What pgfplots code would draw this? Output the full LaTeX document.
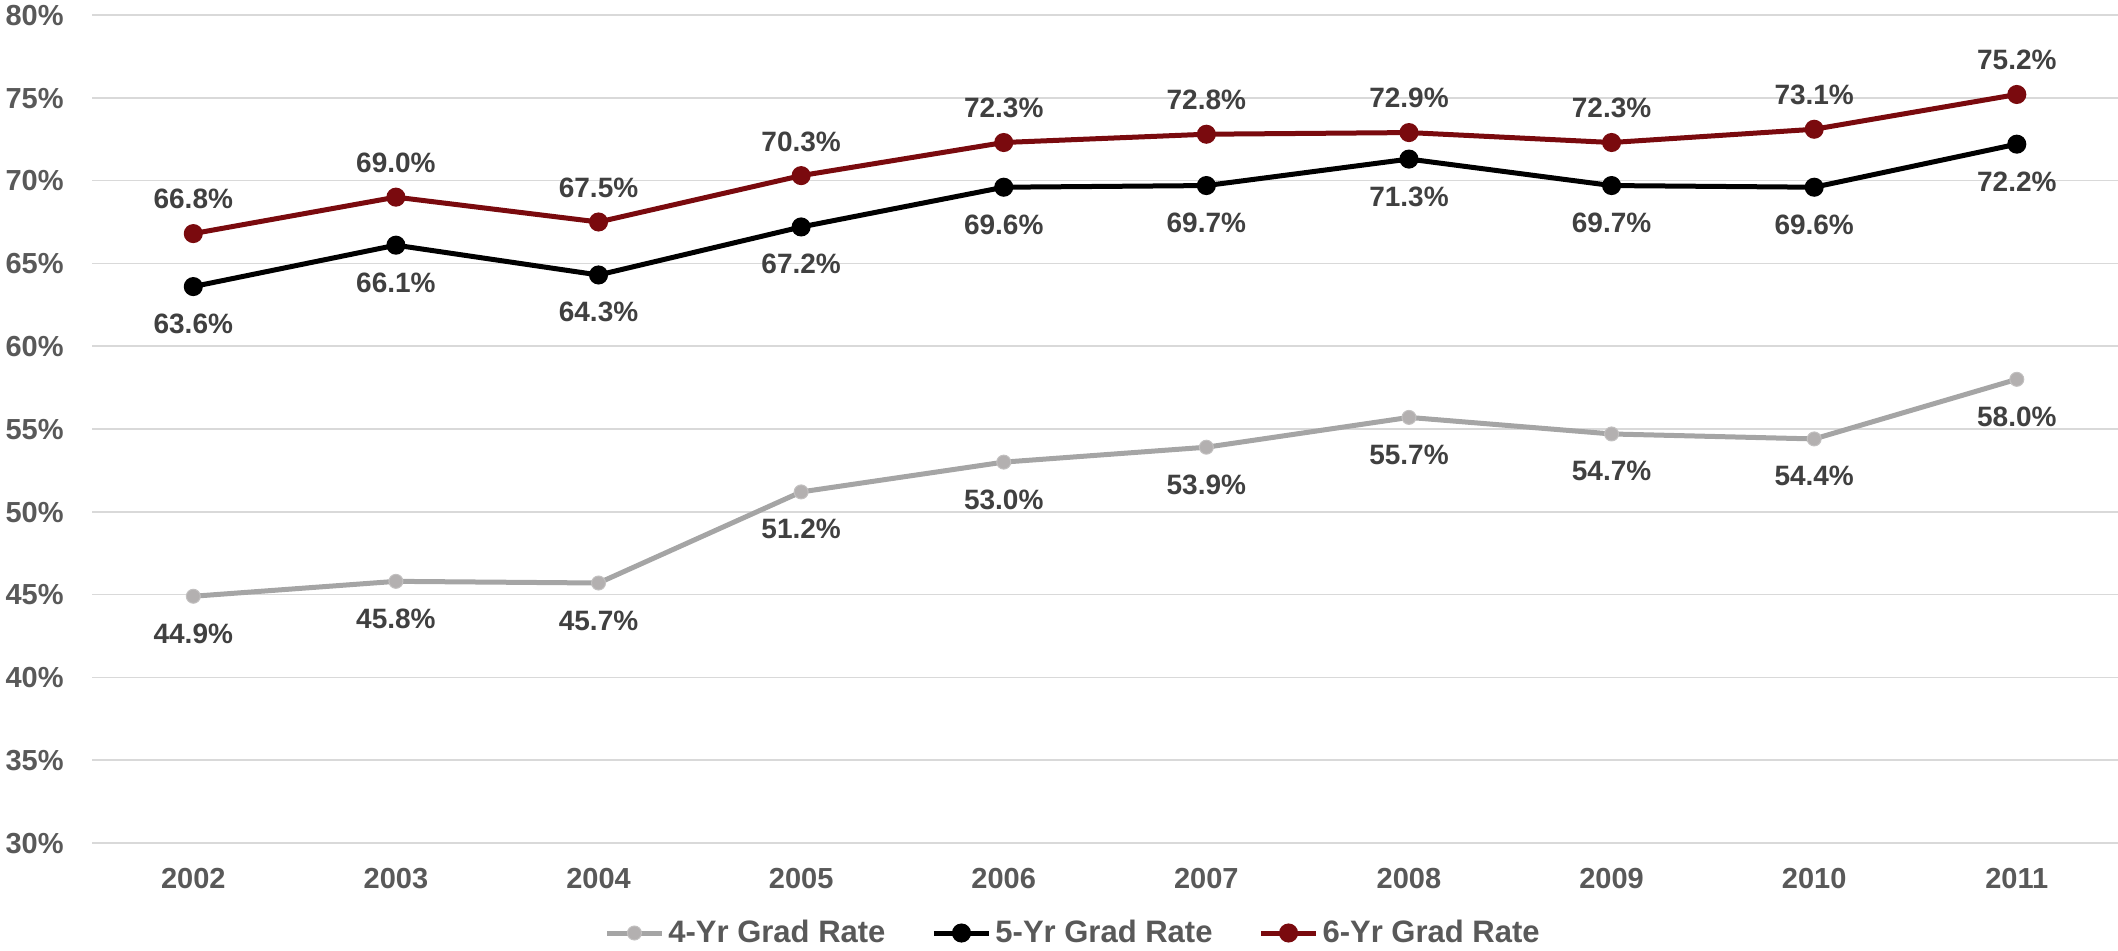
\documentclass[border=0pt]{standalone}
\usepackage{pgfplots}
\pgfplotsset{compat=1.18}
\usepackage{fontspec}
\setmainfont{Liberation Sans}
\definecolor{tickgrey}{HTML}{595959}
\definecolor{labgrey}{HTML}{404040}
\definecolor{gridgrey}{HTML}{D9D9D9}
\definecolor{sgrey}{HTML}{A5A5A5}
\definecolor{sgreyfill}{HTML}{B3B0B0}
\definecolor{sred}{HTML}{7A0A0E}
\begin{document}
\begin{tikzpicture}
\path[use as bounding box] (0,0) rectangle (1059bp,475.5bp);
\begin{axis}[
  at={(46bp,54bp)}, anchor=south west,
  scale only axis, width=1013bp, height=414bp,
  clip=false,
  xmin=-0.5, xmax=9.5, ymin=30, ymax=80,
  xtick={0,...,9},
  xticklabels={2002,2003,2004,2005,2006,2007,2008,2009,2010,2011},
  ytick={30,35,...,80},
  yticklabel={\pgfmathprintnumber{\tick}\%},
  /pgf/number format/assume math mode=true,
  axis line style={draw=none},
  major tick length=0pt,
  ymajorgrids, grid style={gridgrey, line width=0.8bp},
  tick label style={font=\fontsize{14.5bp}{17bp}\selectfont\bfseries, text=tickgrey, inner sep=0pt},
  xticklabel style={anchor=base, yshift=-22.75bp},
  yticklabel style={anchor=base east, xshift=-14bp, yshift=-5.2bp},
  nodes near coords={\pgfmathprintnumber[fixed,fixed zerofill,precision=1]{\pgfplotspointmeta}\%},
  every node near coord/.append style={font=\fontsize{14bp}{16bp}\selectfont\bfseries, text=labgrey, inner sep=0pt, anchor=base},
  legend columns=3,
  legend style={draw=none, fill=none, at={(0.4837,-0.1087)}, anchor=center,
    font=\fontsize{15.5bp}{18bp}\selectfont\bfseries, text=tickgrey,
    /tikz/every odd column/.append style={column sep=2bp},
    /tikz/every even column/.append style={column sep=23bp},
    nodes={inner sep=0pt}},
  legend image code/.code={\draw[mark repeat=2,mark phase=2,#1] plot coordinates {(0bp,0bp) (13.75bp,0bp) (27.5bp,0bp)};},
]
\addplot[sgrey, line width=2.5bp, mark=*, mark size=3.5bp, mark options={fill=sgreyfill, draw=sgreyfill!80!white, line width=0.5bp},
  every node near coord/.append style={yshift=-23.5bp}]
  coordinates {(0,44.9) (1,45.8) (2,45.7) (3,51.2) (4,53.0) (5,53.9) (6,55.7) (7,54.7) (8,54.4) (9,58.0)};
\addlegendentry{4-Yr Grad Rate}
\addplot[black, line width=2.5bp, mark=*, mark size=3.5bp, mark options={fill=black},
  every node near coord/.append style={yshift=-23.5bp}]
  coordinates {(0,63.6) (1,66.1) (2,64.3) (3,67.2) (4,69.6) (5,69.7) (6,71.3) (7,69.7) (8,69.6) (9,72.2)};
\addlegendentry{5-Yr Grad Rate}
\addplot[sred, line width=2.5bp, mark=*, mark size=3.5bp, mark options={fill=sred},
  every node near coord/.append style={yshift=12.3bp}]
  coordinates {(0,66.8) (1,69.0) (2,67.5) (3,70.3) (4,72.3) (5,72.8) (6,72.9) (7,72.3) (8,73.1) (9,75.2)};
\addlegendentry{6-Yr Grad Rate}
\end{axis}
\end{tikzpicture}
\end{document}
